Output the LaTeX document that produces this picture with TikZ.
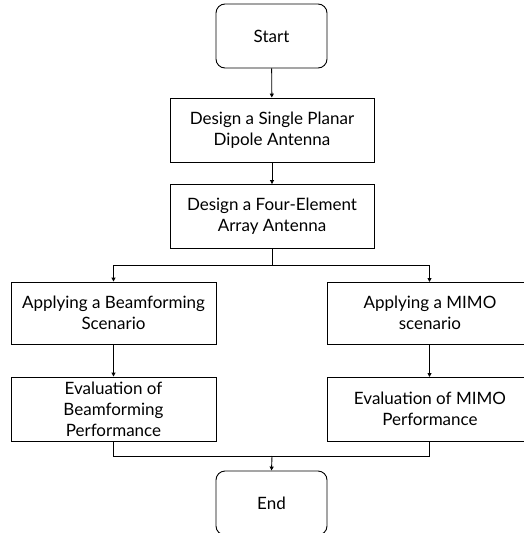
\documentclass[tikz,border=0pt]{standalone}
\usepackage{fontspec}
\setmainfont{Lato}
\usetikzlibrary{arrows.meta}
\begin{document}
\begin{tikzpicture}[x=1pt,y=-1pt,
  box/.style={draw,line width=0.9pt,minimum width=204pt,minimum height=64pt,align=center,inner sep=0pt,font=\fontsize{17}{21}\selectfont},
  term/.style={box,minimum width=111pt,rounded corners=9pt},
  conn/.style={line width=0.9pt},
  arr/.style={conn,-{Triangle[length=4pt,width=4pt]}}]
\useasboundingbox (0,0) rectangle (523,533);
\node[term] (start) at (271.5,36) {Start};
\node[box] (d1) at (272,130) {Design a Single Planar\\Dipole Antenna};
\node[box] (d2) at (272,216.5) {Design a Four-Element\\Array Antenna};
\node[box,minimum width=205pt,minimum height=62pt] (bf) at (113.5,313) {Applying a Beamforming\\Scenario};
\node[box,minimum width=216pt,minimum height=62pt,anchor=west] (mimo) at (327,313) {\hspace*{-11pt}Applying a MIMO\\\hspace*{-11pt}scenario};
\node[box,minimum width=205pt] (ebf) at (113.5,409) {Evaluation of\\Beamforming\\Performance};
\node[box,minimum width=216pt,anchor=west] (emimo) at (327,409) {\hspace*{-11pt}Evaluation of MIMO\\\hspace*{-11pt}Performance};
\node[term] (end) at (271.5,503) {End};
\coordinate (split) at (272,265);
\coordinate (merge) at (272,456);
\coordinate (mtop) at (429.5,282);
\coordinate (mbot) at (429.5,344);
\coordinate (etop) at (429.5,377);
\coordinate (ebot) at (429.5,441);
\draw[arr] (start) -- (d1);
\draw[arr] (d1) -- (d2);
\draw[conn] (d2.south) -- (split);
\draw[arr] (split) -| (bf.north);
\draw[arr] (split) -| (mtop);
\draw[arr] (bf) -- (ebf);
\draw[arr] (mbot) -- (etop);
\draw[conn] (ebf.south) |- (merge);
\draw[conn] (ebot) |- (merge);
\draw[arr] (merge) -- (end.north);
\end{tikzpicture}
\end{document}
